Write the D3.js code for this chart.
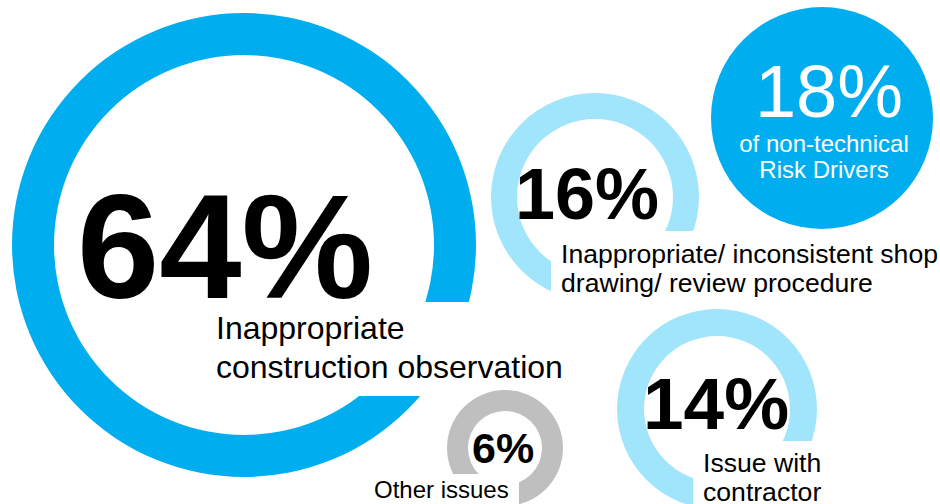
<!DOCTYPE html>
<html>
<head>
<meta charset="utf-8">
<script src="https://cdn.jsdelivr.net/npm/d3@7"></script>
<style>
  body { margin: 0; background: #fff; }
  svg { display: block; font-family: "Liberation Sans", Arial, sans-serif; }
</style>
</head>
<body>
<div id="chart"></div>
<script>
// the data
var shares = [64, 16, 14, 6];
var shareLabels = [
  ["Inappropriate", "construction observation"],
  ["Inappropriate/ inconsistent shop", "drawing/ review procedure"],
  ["Issue with", "contractor"],
  ["Other issues"]
];
var totalShare = 18;
var totalLabel = ["of non-technical", "Risk Drivers"];

// layout of the rings (kept apart from the data)
var rings = [
  {cx: 244, cy: 245, r0: 190, r1: 232, color: "#00aeef", size: 148,
   tx: 77, ty: 298, lx: 216, ly: 339, lh: 39, lsize: 32,
   box: [210, 302, 360, 94]},
  {cx: 595, cy: 197, r0: 78, r1: 104, color: "#a0e5fc", size: 72,
   tx: 515, ty: 219, lx: 561, ly: 263, lh: 29, lsize: 26.6,
   box: [551, 231, 389, 74]},
  {cx: 717, cy: 409, r0: 73, r1: 100, color: "#a0e5fc", size: 73,
   tx: 643, ty: 429, lx: 703, ly: 472, lh: 29, lsize: 26.6,
   box: [693, 441, 200, 63]},
  {cx: 505, cy: 448, r0: 37, r1: 58, color: "#bfbfbf", size: 43,
   tx: 472, ty: 463, lx: 374, ly: 498, lh: 28, lsize: 24,
   box: [370, 474, 149, 30]}
];

var width = 940, height = 504;

var svg = d3.select("#chart").append("svg")
    .attr("width", width)
    .attr("height", height);

var arc = d3.arc()
    .startAngle(0)
    .endAngle(2 * Math.PI);

// rings, each with a white box behind its label
shares.forEach(function(v, i) {
  var g = rings[i];
  svg.append("path")
      .attr("transform", "translate(" + g.cx + "," + g.cy + ")")
      .attr("fill", g.color)
      .attr("d", arc({innerRadius: g.r0, outerRadius: g.r1}));

  svg.append("rect")
      .attr("x", g.box[0])
      .attr("y", g.box[1])
      .attr("width", g.box[2])
      .attr("height", g.box[3])
      .attr("fill", "#fff");
});

// the filled circle for the total
svg.append("circle")
    .attr("cx", 822)
    .attr("cy", 118)
    .attr("r", 111)
    .attr("fill", "#00aeef");

svg.append("text")
    .attr("x", 829)
    .attr("y", 117)
    .attr("text-anchor", "middle")
    .attr("fill", "#fff")
    .attr("font-size", 74)
    .text(totalShare + "%");

svg.selectAll(".total-label")
    .data(totalLabel)
  .enter().append("text")
    .attr("class", "total-label")
    .attr("x", 824)
    .attr("y", function(d, i) { return 152 + i * 26; })
    .attr("text-anchor", "middle")
    .attr("fill", "#fff")
    .attr("font-size", 24)
    .text(function(d) { return d; });

// percentages and labels
shares.forEach(function(v, i) {
  var g = rings[i];
  svg.append("text")
      .attr("x", g.tx)
      .attr("y", g.ty)
      .attr("font-size", g.size)
      .attr("font-weight", "bold")
      .attr("fill", "#000")
      .text(v + "%");

  shareLabels[i].forEach(function(line, j) {
    svg.append("text")
        .attr("x", g.lx)
        .attr("y", g.ly + j * g.lh)
        .attr("font-size", g.lsize)
        .attr("fill", "#000")
        .text(line);
  });
});
</script>
</body>
</html>
